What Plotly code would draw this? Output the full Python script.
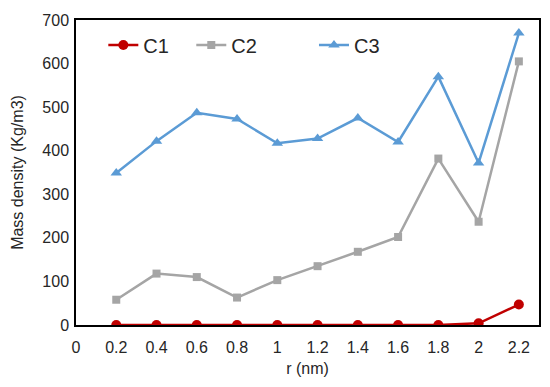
import plotly.graph_objects as go

r_vals = [0.2, 0.4, 0.6, 0.8, 1.0, 1.2, 1.4, 1.6, 1.8, 2.0, 2.2]
c1 = [0, 0, 0, 0, 0, 0, 0, 0, 0, 4, 47]
c2 = [58, 118, 110, 63, 103, 135, 168, 202, 382, 237, 605]
c3 = [349, 422, 487, 473, 417, 428, 475, 420, 570, 372, 670]
x_ticks = [0, 0.2, 0.4, 0.6, 0.8, 1, 1.2, 1.4, 1.6, 1.8, 2, 2.2]
y_ticks = [0, 100, 200, 300, 400, 500, 600, 700]

fig = go.Figure()
fig.add_trace(go.Scatter(
    x=r_vals, y=c1, mode="lines+markers", name="C1", legend="legend",
    line=dict(color="#C00000", width=2.5),
    marker=dict(symbol="circle", size=10, color="#C00000"),
))
fig.add_trace(go.Scatter(
    x=r_vals, y=c2, mode="lines+markers", name="C2", legend="legend2",
    line=dict(color="#A5A5A5", width=2.5),
    marker=dict(symbol="square", size=8, color="#A5A5A5"),
))
fig.add_trace(go.Scatter(
    x=r_vals, y=c3, mode="lines+markers", name="C3", legend="legend3",
    line=dict(color="#5B9BD5", width=2.5),
    marker=dict(symbol="triangle-up", size=10, color="#5B9BD5"),
))

fig.update_xaxes(
    range=[0, 2.3], tickmode="array", tickvals=x_ticks,
    ticktext=[str(v) for v in x_ticks],
    showgrid=False, zeroline=False, showline=True, mirror=True,
    linecolor="#000000", linewidth=1.5, ticks="", automargin=False,
    tickfont=dict(size=16), ticklabelstandoff=7,
    title=dict(text="r (nm)", font=dict(size=16), standoff=8),
)
fig.update_yaxes(
    range=[0, 700], tickmode="array", tickvals=y_ticks,
    showgrid=False, zeroline=False, showline=True, mirror=True,
    linecolor="#000000", linewidth=1.5, ticks="", automargin=False,
    tickfont=dict(size=16), ticklabelstandoff=2,
    title=dict(text="Mass density (Kg/m3)", font=dict(size=16), standoff=15),
)

# the page body keeps its 8px default margin, so the figure is 8px smaller
leg = dict(
    orientation="h", yanchor="middle", xanchor="left", y=0.918,
    font=dict(size=20), itemwidth=30, bgcolor="rgba(0,0,0,0)",
)
fig.update_layout(
    width=542, height=379, showlegend=True,
    margin=dict(l=68, r=11, t=12, b=62),
    paper_bgcolor="white", plot_bgcolor="white",
    font=dict(family="Liberation Sans, Arial, sans-serif", size=15, color="#262626"),
    legend=dict(leg, x=0.059),
    legend2=dict(leg, x=0.249),
    legend3=dict(leg, x=0.514),
)
fig.write_html("out.html")
